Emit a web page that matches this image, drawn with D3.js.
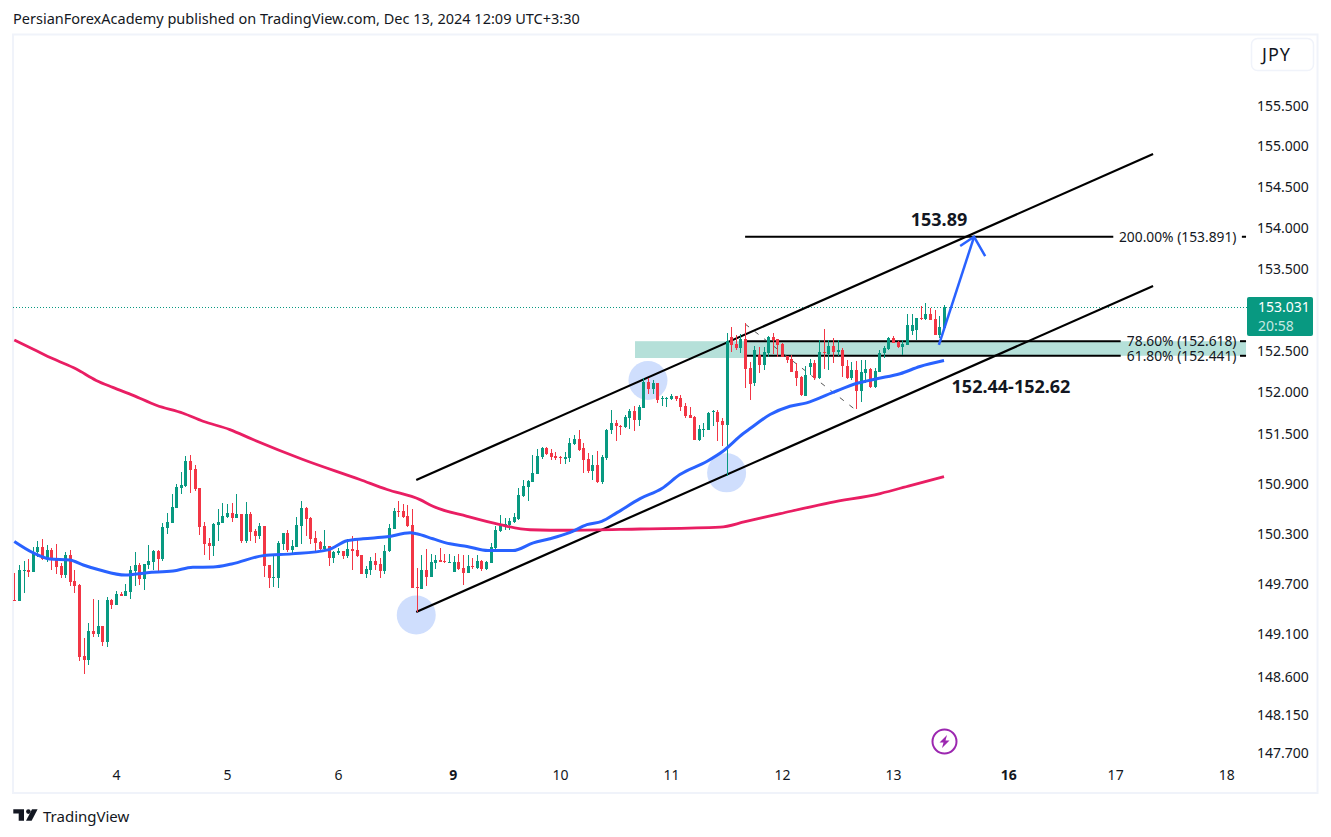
<!DOCTYPE html>
<html>
<head>
<meta charset="utf-8">
<script src="https://cdn.jsdelivr.net/npm/d3@7"></script>
<style>
  html, body { margin: 0; padding: 0; background: #fff; }
  svg { display: block; }
  text { font-family: "Noto Sans", sans-serif; fill: #131722; }
</style>
</head>
<body>
<svg id="chart" width="1331" height="837"></svg>
<script>
// hourly candles
const opens = [
  149.512,149.492,149.857,149.865,149.841,150.082,150.142,149.993,150.106,150.009,
  149.913,149.805,150.046,149.733,149.685,148.842,148.794,149.143,149.107,149.203,
  149.011,149.504,149.444,149.576,149.552,149.600,149.853,149.925,149.757,149.925,
  149.961,150.094,149.997,150.370,150.430,150.611,150.852,150.876,151.176,151.080,
  150.852,150.394,150.190,150.154,150.406,150.430,150.503,150.551,150.491,150.539,
  150.214,150.539,150.334,150.274,150.394,149.925,149.769,149.769,150.178,150.310,
  150.106,150.142,150.394,150.611,150.491,150.250,150.202,150.118,150.154,150.009,
  150.070,150.094,150.034,150.118,150.106,150.046,149.817,149.865,149.973,149.937,
  149.853,150.094,150.358,150.575,150.575,150.515,150.406,149.661,149.637,149.865,
  149.781,149.949,149.985,149.973,149.949,149.841,149.961,149.889,149.829,149.913,
  149.889,149.973,149.877,149.949,150.130,150.334,150.406,150.406,150.442,150.478,
  150.755,150.863,150.924,151.020,151.224,151.333,151.272,151.236,151.224,151.200,
  151.212,151.381,151.441,151.321,151.200,151.056,151.128,150.924,151.212,151.538,
  151.634,151.598,151.574,151.694,151.778,151.670,151.814,152.127,152.043,152.115,
  151.923,151.923,151.923,151.959,151.935,151.838,151.730,151.706,151.429,151.538,
  151.538,151.766,151.766,151.658,151.610,152.668,152.584,152.536,152.644,152.295,
  152.114,152.451,152.331,152.475,152.668,152.644,152.584,152.439,152.403,152.259,
  152.187,151.958,152.307,152.355,152.175,152.487,152.463,152.560,152.487,152.512,
  152.319,152.175,152.271,152.018,152.235,152.283,152.062,152.247,152.475,152.524,
  152.656,152.608,152.548,152.572,152.740,152.752,152.896,152.884,152.945,152.884,
  152.692,152.776
];
const highs = [
  149.829,149.925,149.973,149.997,150.138,150.214,150.238,150.166,150.130,150.178,
  149.949,150.082,150.106,149.865,149.697,149.059,149.240,149.516,149.504,149.203,
  149.540,149.516,149.612,149.600,149.697,149.913,150.082,149.949,149.937,150.166,
  150.106,150.106,150.430,150.551,150.779,150.900,151.044,151.225,151.237,151.128,
  150.852,150.442,150.250,150.430,150.599,150.671,150.659,150.671,150.779,150.539,
  150.683,150.563,150.358,150.430,150.394,149.925,150.034,150.214,150.310,150.346,
  150.226,150.503,150.695,150.623,150.503,150.334,150.214,150.346,150.154,150.094,
  150.130,150.094,150.238,150.274,150.226,150.046,149.913,150.021,150.070,150.009,
  150.166,150.418,150.611,150.695,150.659,150.647,150.599,149.889,150.046,150.118,
  150.058,150.046,150.130,150.058,150.058,150.034,150.058,150.045,150.045,150.009,
  150.045,149.985,149.973,150.190,150.394,150.527,150.490,150.490,150.547,150.847,
  150.948,150.948,151.248,151.309,151.345,151.345,151.309,151.284,151.236,151.284,
  151.453,151.489,151.549,151.393,151.272,151.248,151.296,151.248,151.561,151.790,
  151.670,151.610,151.730,151.802,151.838,151.850,152.175,152.175,152.151,152.115,
  151.959,151.947,151.983,151.959,151.971,151.874,151.826,151.718,151.610,151.634,
  151.766,151.790,151.790,151.694,152.721,152.788,152.692,152.704,152.836,152.367,
  152.560,152.548,152.548,152.680,152.716,152.644,152.592,152.439,152.451,152.355,
  152.199,152.319,152.399,152.391,152.632,152.764,152.632,152.656,152.632,152.536,
  152.391,152.367,152.379,152.391,152.391,152.295,152.295,152.512,152.560,152.668,
  152.680,152.624,152.632,152.945,152.945,152.896,153.041,153.077,153.017,152.993,
  152.921,153.053
];
const lows = [
  149.492,149.492,149.592,149.785,149.841,150.017,149.985,149.961,149.865,149.817,
  149.773,149.773,149.673,149.588,148.782,148.626,148.734,149.071,149.071,148.963,
  148.951,149.396,149.444,149.552,149.552,149.516,149.673,149.685,149.625,149.877,
  149.865,149.841,149.973,150.298,150.430,150.611,150.779,150.864,150.791,150.815,
  150.286,150.046,149.985,150.034,150.214,150.430,150.491,150.442,150.491,150.190,
  150.190,150.214,150.190,150.238,149.781,149.649,149.661,149.649,150.106,150.082,
  150.046,150.142,150.178,150.274,150.178,150.082,150.094,150.106,149.913,149.949,
  150.046,149.997,150.009,149.865,150.021,149.817,149.769,149.805,149.865,149.769,
  149.817,150.082,150.358,150.503,150.487,150.382,149.649,149.360,149.637,149.673,
  149.781,149.877,149.961,149.949,149.949,149.841,149.865,149.684,149.829,149.877,
  149.877,149.853,149.865,149.949,150.106,150.322,150.346,150.346,150.426,150.466,
  150.743,150.695,150.924,151.020,151.200,151.248,151.188,151.188,151.140,151.140,
  151.164,151.369,151.296,151.032,151.032,150.948,150.908,150.899,151.188,151.490,
  151.417,151.478,151.562,151.550,151.526,151.586,151.814,151.983,151.983,151.874,
  151.838,151.826,151.911,151.899,151.778,151.694,151.694,151.429,151.417,151.465,
  151.538,151.598,151.417,151.357,150.988,152.487,152.511,152.471,152.054,151.910,
  152.078,152.235,152.271,152.427,152.463,152.427,152.423,152.351,152.247,152.078,
  151.950,151.958,152.211,152.151,152.159,152.283,152.271,152.355,152.439,152.187,
  152.163,152.151,151.802,151.878,152.110,152.054,152.050,152.239,152.415,152.512,
  152.596,152.536,152.451,152.572,152.692,152.632,152.872,152.872,152.872,152.692,
  152.652,152.752
];
const closes = [
  149.504,149.865,149.865,149.841,150.086,150.142,150.001,150.106,149.985,149.901,
  149.805,150.046,149.721,149.673,148.830,148.794,149.143,149.107,149.203,149.011,
  149.504,149.444,149.576,149.552,149.612,149.865,149.925,149.757,149.937,149.973,
  150.094,149.997,150.382,150.442,150.623,150.864,150.888,151.176,151.068,150.840,
  150.382,150.178,150.154,150.418,150.442,150.515,150.551,150.491,150.539,150.214,
  150.539,150.322,150.274,150.394,149.913,149.769,149.781,150.190,150.310,150.106,
  150.154,150.406,150.611,150.479,150.238,150.190,150.118,150.154,150.009,150.082,
  150.094,150.034,150.118,150.094,150.034,149.817,149.877,149.973,149.925,149.853,
  150.094,150.370,150.575,150.563,150.503,150.394,149.649,149.649,149.865,149.781,
  149.961,149.985,149.961,149.961,149.961,149.961,149.877,149.829,149.913,149.901,
  149.973,149.877,149.961,150.142,150.346,150.418,150.418,150.454,150.498,150.767,
  150.875,150.936,151.032,151.236,151.333,151.260,151.224,151.212,151.212,151.224,
  151.393,151.441,151.308,151.188,151.056,151.128,150.924,151.224,151.549,151.634,
  151.586,151.586,151.706,151.778,151.670,151.826,152.127,152.043,152.115,151.911,
  151.935,151.935,151.959,151.923,151.826,151.718,151.694,151.429,151.550,151.550,
  151.754,151.778,151.646,151.610,152.620,152.572,152.536,152.644,152.283,152.102,
  152.512,152.331,152.487,152.668,152.632,152.572,152.427,152.391,152.247,152.175,
  151.970,152.211,152.355,152.175,152.487,152.475,152.560,152.487,152.512,152.319,
  152.175,152.271,152.018,152.247,152.283,152.066,152.259,152.475,152.536,152.656,
  152.596,152.548,152.584,152.812,152.812,152.896,152.884,152.945,152.872,152.692,
  152.788,153.029
];

// moving averages
const blueBars = [0,4,7.7,12,14.9,18.5,24,28.7,34.3,38.6,43,47,53.8,60,67.8,71.9,75.4,80.6,85.6,87,90.5,94.2,97.9,102.4,107.8,112.2,115.8,120.2,123.8,127,130.3,135.3,140,143.9,149.8,153.2,157.6,159,163.4,167.7,171.3,177,182.4,186.5,191.5,195.8,201];
const bluePrices = [150.206,150.073,149.998,149.986,149.925,149.865,149.805,149.833,149.853,149.898,149.901,149.937,150.037,150.058,150.106,150.214,150.238,150.262,150.310,150.298,150.238,150.178,150.146,150.097,150.097,150.190,150.238,150.314,150.407,150.446,150.551,150.719,150.840,151.008,151.168,151.288,151.501,151.558,151.730,151.830,151.871,151.998,152.111,152.163,152.223,152.311,152.383];
const pinkBars = [0,4,8.4,13.4,17.7,21.3,25.7,30.7,36.5,40.8,46.6,51.6,62.4,74.7,80.6,87.7,90.5,97.9,105,111.5,120.2,135.3,152.6,158,165.6,176.4,187.2,193.7,201];
const pinkPrices = [152.632,152.524,152.404,152.280,152.143,152.058,151.962,151.842,151.746,151.649,151.549,151.429,151.189,150.948,150.828,150.707,150.627,150.506,150.407,150.346,150.340,150.355,150.377,150.443,150.539,150.671,150.780,150.876,150.984];

// axes
const priceTicks = [155.5,155,154.5,154,153.5,152.5,152,151.5,150.9,150.3,149.7,149.1,148.6,148.15,147.7];
const dayBars = [22,46,70,94.8,118,142,166,190,214.9,238,262];
const dayLabels = ["4","5","6","9","10","11","12","13","16","17","18"];
const boldDays = ["9","16"];

// drawings, in bar / price
const upperChannel = [[86.9,150.943],[246.2,154.907]];
const lowerChannel = [[86.9,149.367],[246.2,153.289]];
const circleSpots = [[86.9,149.33],[137,152.141],[154,151.028]];
const fibLevels = [153.891,152.618,152.441];
const fibLabels = ["200.00% (153.891)","78.60% (152.618)","61.80% (152.441)"];
const fibLineEnd = [237.6,239.2,239.2];
const fibDash = [[265.4,266.3],[265,266.3],[265,266.3]];
const zoneBox = {bar0: 134.2, bar1: 158, top: 152.618, bottom: 152.414};
const fibBand = {bar0: 158, bar1: 266.3, top: 152.618, bottom: 152.441};
const fibTrend = [[158,152.827],[181.4,151.808]];
const arrowShaft = [[199.9,152.572],[207.5,153.891]];
const arrowHead = [[204.5,153.778],[207.5,153.891],[209.9,153.655]];
const lastPrice = 153.031;

const green = "#089981", red = "#f23645", ink = "#131722", frame = "#f0f3fa";

const svg = d3.select("#chart");

// 24 bars per day, price axis is logarithmic
const x = d3.scaleLinear().domain([0, 201]).range([14.3, 944]);
const y = d3.scaleLog().domain([147.7, 155.5]).range([753, 106]);
const px = d => Math.round(x(d));
const py = d => Math.round(y(d));

const xy = d3.line().x(d => x(d[0])).y(d => y(d[1]));

// frame
svg.append("rect").attr("x", 13).attr("y", 34.5).attr("width", 1304.5).attr("height", 758.5)
    .attr("fill", "none").attr("stroke", frame).attr("stroke-width", 2);

// header and logo
svg.append("text").attr("x", 13).attr("y", 24).attr("font-size", 14.5)
    .text("PersianForexAcademy published on TradingView.com, Dec 13, 2024 12:09 UTC+3:30");
const logo = svg.append("g").attr("fill", ink);
logo.append("path").attr("d", "M13.3 809.3H24V820.7H18.7V813.6H13.3Z");
logo.append("circle").attr("cx", 28.4).attr("cy", 811.6).attr("r", 2.3);
logo.append("path").attr("d", "M32 809.3H37.6L31.6 820.7H26Z");
svg.append("text").attr("x", 43).attr("y", 822).attr("font-size", 15).attr("fill", ink).text("TradingView");

// currency button
svg.append("rect").attr("x", 1251.5).attr("y", 38.5).attr("width", 62).attr("height", 32).attr("rx", 6)
    .attr("fill", "#fff").attr("stroke", frame).attr("stroke-width", 1.5);
svg.append("text").attr("x", 1262).attr("y", 61).attr("font-size", 18).attr("letter-spacing", 1).text("JPY");

// zones and circles sit under the candles
svg.append("g").selectAll("rect").data([zoneBox, fibBand]).join("rect")
    .attr("x", d => x(d.bar0))
    .attr("y", d => y(d.top))
    .attr("width", d => x(d.bar1) - x(d.bar0))
    .attr("height", d => y(d.bottom) - y(d.top))
    .attr("fill", "#b5e0d9");

svg.append("g").selectAll("circle").data(circleSpots).join("circle")
    .attr("cx", d => x(d[0]))
    .attr("cy", d => y(d[1]))
    .attr("r", 19.5)
    .attr("fill", "#cfdefd");

svg.append("line").attr("x1", 13).attr("x2", 1247).attr("y1", py(lastPrice) + 0.5).attr("y2", py(lastPrice) + 0.5)
    .attr("stroke", green).attr("stroke-width", 1).attr("stroke-dasharray", "1 2");

// fib levels
fibLevels.forEach((level, i) => {
    svg.append("line").attr("x1", x(158)).attr("x2", x(fibLineEnd[i])).attr("y1", y(level)).attr("y2", y(level))
        .attr("stroke", "#000").attr("stroke-width", 2);
    svg.append("line").attr("x1", x(fibDash[i][0])).attr("x2", x(fibDash[i][1])).attr("y1", y(level)).attr("y2", y(level))
        .attr("stroke", "#000").attr("stroke-width", 2);
    svg.append("text").attr("x", 1236.5).attr("y", y(level)).attr("dy", "0.35em")
        .attr("text-anchor", "end").attr("font-size", 13.8).text(fibLabels[i]);
});
svg.append("path").attr("d", xy(fibTrend)).attr("fill", "none")
    .attr("stroke", "#555").attr("stroke-width", 1).attr("stroke-dasharray", "5 7");

// channel
[upperChannel, lowerChannel].forEach(c => {
    svg.append("path").attr("d", xy(c)).attr("fill", "none").attr("stroke", "#000").attr("stroke-width", 2.2);
});

// candles
const bars = d3.range(opens.length);
const candles = svg.append("g").selectAll("g").data(bars).join("g")
    .attr("fill", i => closes[i] >= opens[i] ? green : red);
candles.append("rect")
    .attr("x", i => px(i))
    .attr("width", 1)
    .attr("y", i => py(highs[i]))
    .attr("height", i => Math.max(1, py(lows[i]) - py(highs[i])));
candles.append("rect")
    .attr("x", i => px(i) - 1)
    .attr("width", 3)
    .attr("y", i => py(Math.max(opens[i], closes[i])))
    .attr("height", i => Math.max(1, Math.abs(py(opens[i]) - py(closes[i]))));

// moving averages
const maLine = d3.line().x(d => x(d[0])).y(d => y(d[1])).curve(d3.curveMonotoneX);
svg.append("path").attr("d", maLine(d3.zip(pinkBars, pinkPrices))).attr("fill", "none")
    .attr("stroke", "#e91e63").attr("stroke-width", 2.8);
svg.append("path").attr("d", maLine(d3.zip(blueBars, bluePrices))).attr("fill", "none")
    .attr("stroke", "#2962ff").attr("stroke-width", 3);

// arrow
svg.append("path").attr("d", xy(arrowShaft)).attr("fill", "none").attr("stroke", "#2962ff").attr("stroke-width", 2.5);
svg.append("path").attr("d", xy(arrowHead)).attr("fill", "none").attr("stroke", "#2962ff").attr("stroke-width", 2.5);

// notes
svg.append("text").attr("x", 939).attr("y", 226).attr("text-anchor", "middle")
    .attr("font-size", 18).attr("font-weight", 700).text("153.89");
svg.append("text").attr("x", 1011).attr("y", 393).attr("text-anchor", "middle")
    .attr("font-size", 18).attr("font-weight", 700).text("152.44-152.62");

// price axis
const yAxis = svg.append("g").attr("transform", "translate(1257,0)")
    .call(d3.axisRight(y).tickValues(priceTicks).tickFormat(d3.format(".3f")).tickSize(0).tickPadding(0));
yAxis.select(".domain").remove();
yAxis.selectAll("text").attr("font-size", 14).attr("font-family", null).attr("fill", ink);

// last price tag
svg.append("rect").attr("x", 1247).attr("y", 297).attr("width", 66).attr("height", 39).attr("rx", 2).attr("fill", green);
svg.append("text").attr("x", 1258).attr("y", 312).attr("font-size", 14).style("fill", "#fff").text(d3.format(".3f")(lastPrice));
svg.append("text").attr("x", 1258).attr("y", 331).attr("font-size", 14).style("fill", "#c6e8e2").text("20:58");

// time axis
const xAxis = svg.append("g").attr("transform", "translate(0,770)")
    .call(d3.axisBottom(x).tickValues(dayBars).tickFormat((d, i) => dayLabels[i]).tickSize(0).tickPadding(0));
xAxis.select(".domain").remove();
xAxis.selectAll("text").attr("font-size", 14).attr("font-family", null).attr("fill", ink)
    .attr("font-weight", (d, i) => boldDays.includes(dayLabels[i]) ? 700 : 400);

// lightning badge
const badge = svg.append("g").attr("transform", "translate(944.5,741.5)");
badge.append("circle").attr("r", 12).attr("fill", "#fff").attr("stroke", "#9c27b0").attr("stroke-width", 2);
badge.append("path").attr("d", "M2.5 -6.5L-5 1H-1L-2.5 6.5L5 -1H1Z").attr("fill", "#9c27b0");
</script>
</body>
</html>
